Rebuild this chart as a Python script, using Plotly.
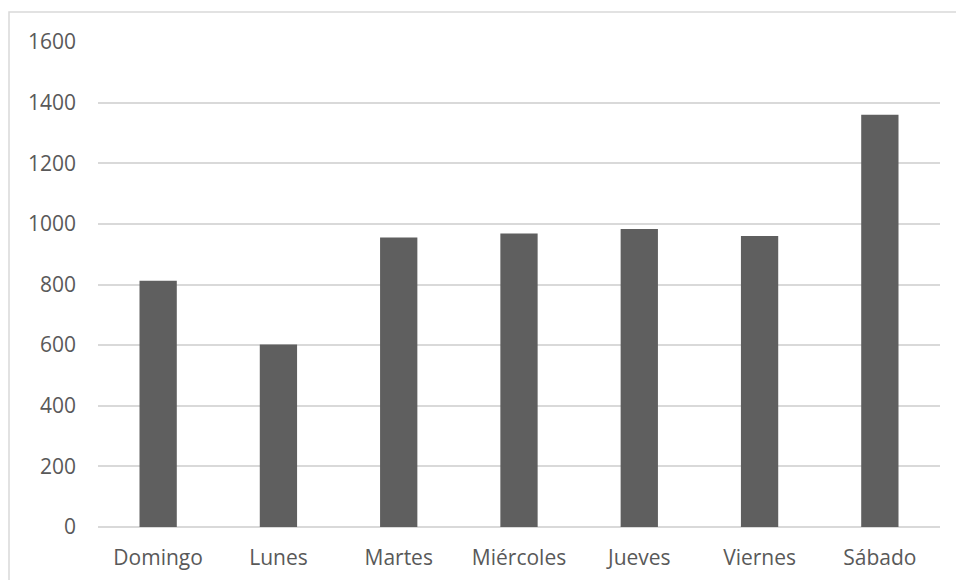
import plotly.graph_objects as go

categories = ["Domingo", "Lunes", "Martes", "Miércoles", "Jueves", "Viernes", "Sábado"]
values = [812, 602, 955, 968, 983, 960, 1360]
y_ticks = [0, 200, 400, 600, 800, 1000, 1200, 1400, 1600]

W, H = 956, 580
L, T = 98, 42
R = W - 940
B = H - 527
pw, ph = W - L - R, H - T - B

fig = go.Figure(go.Bar(
    x=categories, y=values,
    marker=dict(color="#5f5f5f", line=dict(width=0)),
    width=0.31,
))

font = dict(family="Open Sans, sans-serif", size=21, color="#595959")

fig.update_layout(
    width=W, height=H,
    margin=dict(l=L, r=R, t=T, b=B),
    paper_bgcolor="white", plot_bgcolor="white",
    font=font, showlegend=False, bargap=0.69,
    xaxis=dict(showgrid=False, showline=False, ticks="", ticklabelstandoff=16,
               tickfont=font, automargin=False),
    yaxis=dict(range=[0, 1600], tickvals=y_ticks, showgrid=True,
               gridcolor="#d9d9d9", gridwidth=1.5, zeroline=True,
               zerolinecolor="#d9d9d9", zerolinewidth=1.5, showline=False,
               ticks="", ticklabelstandoff=21, tickfont=font, automargin=False),
    shapes=[dict(type="rect", xref="paper", yref="paper",
                 x0=(9 - L) / pw, x1=1.03,
                 y0=-0.3, y1=1 + (T - 12) / ph,
                 line=dict(color="#d9d9d9", width=1.5), layer="below")],
)

fig.write_html(
    "out.html",
    config={"displayModeBar": False},
    post_script="document.body.style.margin='0';document.body.style.overflow='hidden';",
)
